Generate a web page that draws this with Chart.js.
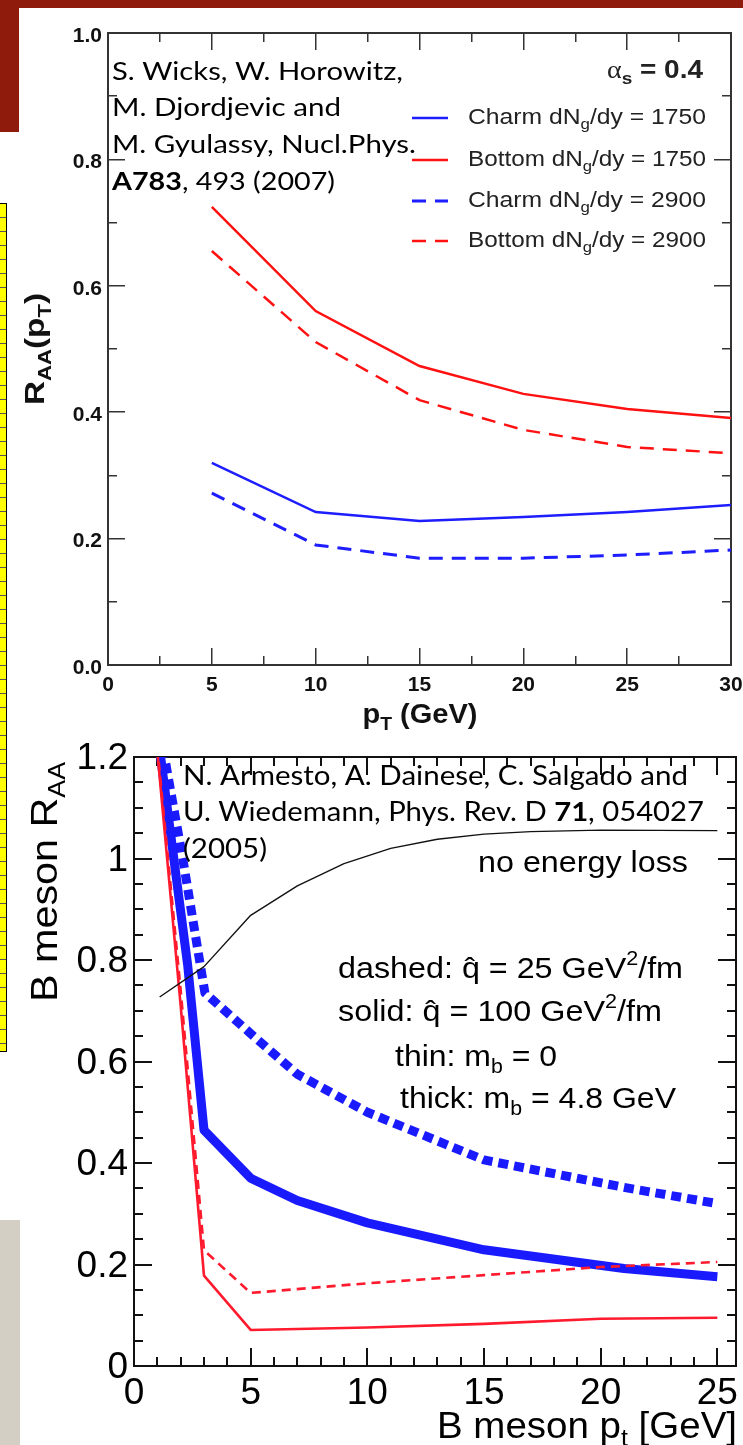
<!DOCTYPE html>
<html><head><meta charset="utf-8">
<script src="https://cdn.jsdelivr.net/npm/chart.js@4/dist/chart.umd.min.js"></script>
<style>
html,body{margin:0;padding:0;background:#fff;}
body{width:743px;height:1445px;position:relative;overflow:hidden;}
canvas{position:absolute;left:0;top:0;}
.deco{position:absolute;}
</style></head><body>
<div class="deco" style="left:0;top:0;width:743px;height:8px;background:#8e1b0c"></div>
<div class="deco" style="left:0;top:0;width:19px;height:132px;background:#8e1b0c"></div>
<div class="deco" style="left:0;top:203px;width:6px;height:847px;background:repeating-linear-gradient(to bottom,#ffff00 0px,#ffff00 13px,#555 13px,#555 14px);border:1px solid #000;border-left:none"></div>
<div class="deco" style="left:0;top:1220px;width:20px;height:225px;background:#d3cfc4"></div>
<canvas id="c1" width="743" height="1445"></canvas>
<canvas id="c2" width="743" height="1445"></canvas>
<script>
// ---------- top panel data (Wicks et al.) ----------
const topPt      = [5, 10, 15, 20, 25, 30];
const charm1750  = [0.320, 0.242, 0.228, 0.234, 0.242, 0.253];
const bottom1750 = [0.725, 0.560, 0.473, 0.429, 0.405, 0.391];
const charm2900  = [0.272, 0.190, 0.169, 0.169, 0.174, 0.182];
const bottom2900 = [0.655, 0.511, 0.419, 0.372, 0.345, 0.335];
const topLabels  = ['Charm dN/dy = 1750', 'Bottom dN/dy = 1750', 'Charm dN/dy = 2900', 'Bottom dN/dy = 2900'];

const topXMajor  = [0, 5, 10, 15, 20, 25, 30];
const topXLabels = ['0', '5', '10', '15', '20', '25', '30'];
const topXMinor  = [2.5, 7.5, 12.5, 17.5, 22.5, 27.5];
const topYMajor  = [0, 0.2, 0.4, 0.6, 0.8, 1.0];
const topYLabels = ['0.0', '0.2', '0.4', '0.6', '0.8', '1.0'];
const topYMinor  = [0.1, 0.3, 0.5, 0.7, 0.9];

// ---------- bottom panel data (Armesto et al.) ----------
const noLossPt   = [1.1, 3, 5, 7, 9, 11, 13, 15, 17, 20, 25];
const noLoss     = [0.727, 0.787, 0.888, 0.946, 0.99, 1.02, 1.038, 1.048, 1.053, 1.056, 1.055];
const thinPt     = [1, 2, 3, 5, 10, 15, 20, 25];
const thinSolid  = [1.21, 0.71, 0.178, 0.071, 0.076, 0.083, 0.093, 0.095];
const thinDashed = [1.22, 0.74, 0.228, 0.144, 0.163, 0.179, 0.195, 0.205];
const thickSolidPt  = [1, 2.3, 3, 5, 7, 10, 15, 21, 25];
const thickSolid    = [1.25, 0.79, 0.465, 0.37, 0.326, 0.282, 0.229, 0.192, 0.176];
const thickDashedPt = [1, 2.1, 3.04, 5, 7, 10, 15, 21, 25];
const thickDashed   = [1.28, 0.997, 0.735, 0.655, 0.575, 0.5, 0.406, 0.352, 0.32];

const botXMajor  = [0, 5, 10, 15, 20, 25];
const botXLabels = ['0', '5', '10', '15', '20', '25'];
const botXMinor  = [1, 2, 3, 4, 6, 7, 8, 9, 11, 12, 13, 14, 16, 17, 18, 19, 21, 22, 23, 24];
const botYMajor  = [0, 0.2, 0.4, 0.6, 0.8, 1.0, 1.2];
const botYLabels = ['0', '0.2', '0.4', '0.6', '0.8', '1', '1.2'];
const botYMinor  = [0.05, 0.1, 0.15, 0.25, 0.3, 0.35, 0.45, 0.5, 0.55, 0.65, 0.7, 0.75, 0.85, 0.9, 0.95, 1.05, 1.1, 1.15];

// ---------- helpers ----------
const pts = (xs, ys) => xs.map((x, i) => ({ x: x, y: ys[i] }));
function fitTo(size) {
  return s => {
    if (s.isHorizontal()) s.height = size; else s.width = size;
    s.paddingTop = s.paddingBottom = s.paddingLeft = s.paddingRight = 0;
  };
}
function axis(pos, min, max, tickVals, o) {
  return {
    type: 'linear', position: pos, min: min, max: max, weight: o.weight || 0,
    afterBuildTicks: s => { s.ticks = tickVals.map(v => ({ value: v })); },
    afterFit: fitTo(o.size || 0),
    ticks: o.labels ? {
      display: true, autoSkip: false, minRotation: 0, maxRotation: 0,
      padding: o.pad, color: o.tcol || '#111', font: o.font, labelOffset: o.loff || 0,
      callback: (v, i) => o.labels[i]
    } : { display: false },
    grid: { display: true, drawOnChartArea: false, drawTicks: true, tickLength: -o.len, color: o.col, lineWidth: o.lw },
    border: { display: !!o.border, color: o.col, width: o.bw || 2 }
  };
}
function drawRich(ctx, segs, x, y, o) {
  const size = o.size, fam = o.family || 'Liberation Sans';
  const fnt = s => (s.i ? 'italic ' : '') + (s.b ? 'bold ' : '') + ((s.sub || s.sup) ? Math.round(size * (o.ss || 0.66)) : size) + 'px ' + (s.f ? s.f : fam);
  ctx.save();
  ctx.translate(x, y);
  if (o.rot) ctx.rotate(o.rot);
  let w = 0;
  const ws = segs.map(s => { ctx.font = fnt(s); const m = ctx.measureText(s.t).width; w += m; return m; });
  const sx = o.width ? o.width / w : 1;
  const tw = w * sx;
  const x0 = o.align === 'right' ? -tw : (o.align === 'center' ? -tw / 2 : 0);
  ctx.translate(x0, 0);
  ctx.scale(sx, 1);
  ctx.fillStyle = o.color || '#000';
  ctx.textBaseline = 'middle';
  ctx.textAlign = 'left';
  let cx = 0;
  segs.forEach((s, i) => {
    ctx.font = fnt(s);
    const dy = s.sub ? size * 0.32 : (s.sup ? -size * 0.36 : 0);
    ctx.fillText(s.t, cx, dy);
    cx += ws[i];
  });
  ctx.restore();
}

// ---------- top chart ----------
const tf1 = { family: 'Liberation Sans', size: 21, weight: 'bold' };
const c1col = '#333';
const annot1 = {
  id: 'annot1',
  afterDraw(chart) {
    const ctx = chart.ctx;
    const cite = { size: 25, family: 'Lato', color: '#000' };
    drawRich(ctx, [{ t: 'S. Wicks, W. Horowitz,' }], 112, 72, Object.assign({ width: 291 }, cite));
    drawRich(ctx, [{ t: 'M. Djordjevic and' }], 112, 108, Object.assign({ width: 229 }, cite));
    drawRich(ctx, [{ t: 'M. Gyulassy, Nucl.Phys.' }], 112, 145, Object.assign({ width: 304 }, cite));
    drawRich(ctx, [{ t: 'A783', b: true }, { t: ', 493 (2007)' }], 112, 182, Object.assign({ width: 223 }, cite));
    drawRich(ctx, [{ t: 'α', f: 'Liberation Serif' }, { t: 's', b: true, sub: true }, { t: ' = 0.4', b: true }], 703, 71,
      { size: 25, align: 'right', width: 96, color: '#222' });
    const rows = [118, 160, 201, 241];
    chart.data.datasets.forEach((ds, i) => {
      ctx.save();
      ctx.strokeStyle = ds.borderColor; ctx.lineWidth = ds.borderWidth;
      ctx.setLineDash(ds.borderDash || []);
      ctx.beginPath(); ctx.moveTo(412, rows[i]); ctx.lineTo(448, rows[i]); ctx.stroke();
      ctx.restore();
      const parts = topLabels[i].split('dN');
      drawRich(ctx, [{ t: parts[0] + 'dN' }, { t: 'g', sub: true }, { t: parts[1] }], 468, rows[i],
        { size: 22, width: 238, color: '#222' });
    });
    drawRich(ctx, [{ t: 'p', b: true }, { t: 'T', b: true, sub: true }, { t: ' (GeV)', b: true }], 420, 716,
      { size: 27, align: 'center', width: 115, color: '#111' });
    drawRich(ctx, [{ t: 'R', b: true }, { t: 'AA', b: true, sub: true }, { t: '(p', b: true }, { t: 'T', b: true, sub: true }, { t: ')', b: true }],
      37, 349, { size: 27, align: 'center', width: 112, rot: -Math.PI / 2, color: '#111' });
  }
};
new Chart(document.getElementById('c1'), {
  type: 'line',
  data: { datasets: [
    { label: topLabels[0], data: pts(topPt, charm1750),  borderColor: '#1d1dff', borderWidth: 2.5, borderDash: [] },
    { label: topLabels[1], data: pts(topPt, bottom1750), borderColor: '#ff1111', borderWidth: 2.5, borderDash: [] },
    { label: topLabels[2], data: pts(topPt, charm2900),  borderColor: '#1d1dff', borderWidth: 3, borderDash: [14, 9] },
    { label: topLabels[3], data: pts(topPt, bottom2900), borderColor: '#ff1111', borderWidth: 2.5, borderDash: [14, 9] }
  ] },
  options: {
    responsive: false, animation: false, events: [],
    layout: { padding: { left: 0, top: 33, right: 12, bottom: 0 } },
    plugins: { legend: { display: false }, tooltip: { enabled: false }, title: { display: false } },
    elements: { point: { radius: 0 }, line: { tension: 0, fill: false, borderCapStyle: 'butt' } },
    datasets: { line: { clip: 0 } },
    scales: {
      x:   axis('bottom', 0, 30, topXMajor, { labels: topXLabels, pad: 25, font: tf1, len: 17, col: c1col, lw: 1.5, border: true, size: 780, weight: 1 }),
      x2:  axis('bottom', 0, 30, topXMinor, { len: 9, col: c1col, lw: 1.5, weight: -1 }),
      xt:  axis('top', 0, 30, topXMajor, { len: 17, col: c1col, lw: 1.5, border: true }),
      xt2: axis('top', 0, 30, topXMinor, { len: 9, col: c1col, lw: 1.5 }),
      y:   axis('left', 0, 1, topYMajor, { labels: topYLabels, pad: 23, loff: 3, font: tf1, len: 17, col: c1col, lw: 1.5, border: true, size: 108, weight: 1 }),
      y2:  axis('left', 0, 1, topYMinor, { len: 9, col: c1col, lw: 1.5, weight: -1 }),
      yr:  axis('right', 0, 1, topYMajor, { len: 17, col: c1col, lw: 1.5, border: true }),
      yr2: axis('right', 0, 1, topYMinor, { len: 9, col: c1col, lw: 1.5 })
    }
  },
  plugins: [annot1]
});

// ---------- bottom chart ----------
const tf2 = { family: 'Liberation Sans', size: 37, weight: 'normal' };
const c2col = '#111';
const annot2 = {
  id: 'annot2',
  afterDraw(chart) {
    const ctx = chart.ctx;
    const cite = { size: 26, family: 'Lato', color: '#000' };
    drawRich(ctx, [{ t: 'N. Armesto, A. Dainese, C. Salgado and' }], 183, 777, Object.assign({ width: 505 }, cite));
    drawRich(ctx, [{ t: 'U. Wiedemann, Phys. Rev. D ' }, { t: '71', b: true }, { t: ', 054027' }], 183, 813, Object.assign({ width: 521 }, cite));
    drawRich(ctx, [{ t: '(2005)' }], 183, 850, Object.assign({ width: 84 }, cite));
    const lab = { size: 30, color: '#000' };
    drawRich(ctx, [{ t: 'no energy loss' }], 478, 864, Object.assign({ width: 210 }, lab));
    drawRich(ctx, [{ t: 'dashed: q\u0302 = 25 GeV' }, { t: '2', sup: true }, { t: '/fm' }], 338, 970, Object.assign({ width: 345 }, lab));
    drawRich(ctx, [{ t: 'solid: q\u0302 = 100 GeV' }, { t: '2', sup: true }, { t: '/fm' }], 338, 1013, Object.assign({ width: 324 }, lab));
    drawRich(ctx, [{ t: 'thin: m' }, { t: 'b', sub: true }, { t: ' = 0' }], 395, 1058, Object.assign({ width: 162 }, lab));
    drawRich(ctx, [{ t: 'thick: m' }, { t: 'b', sub: true }, { t: ' = 4.8 GeV' }], 400, 1100, Object.assign({ width: 276 }, lab));
    drawRich(ctx, [{ t: 'B meson p' }, { t: 't', sub: true }, { t: ' [GeV]' }], 737, 1428, { size: 37, align: 'right', width: 300 });
    drawRich(ctx, [{ t: 'B meson R' }, { t: 'AA', sub: true }], 47, 762, { size: 37, align: 'right', rot: -Math.PI / 2, width: 240 });
  }
};
new Chart(document.getElementById('c2'), {
  type: 'line',
  data: { datasets: [
    { label: 'no energy loss', data: pts(noLossPt, noLoss), borderColor: '#111', borderWidth: 1.4, borderDash: [] },
    { label: 'thin solid', data: pts(thinPt, thinSolid), borderColor: '#ff1a2e', borderWidth: 2.6, borderDash: [] },
    { label: 'thin dashed', data: pts(thinPt, thinDashed), borderColor: '#ff1a2e', borderWidth: 2.6, borderDash: [9, 6] },
    { label: 'thick dashed', data: pts(thickDashedPt, thickDashed), borderColor: '#1a1aff', borderWidth: 9, borderDash: [10, 6] },
    { label: 'thick solid', data: pts(thickSolidPt, thickSolid), borderColor: '#1a1aff', borderWidth: 9, borderDash: [] }
  ] },
  options: {
    responsive: false, animation: false, events: [],
    layout: { padding: { left: 0, top: 757, right: 7, bottom: 0 } },
    plugins: { legend: { display: false }, tooltip: { enabled: false }, title: { display: false } },
    elements: { point: { radius: 0 }, line: { tension: 0, fill: false, borderCapStyle: 'butt', borderJoinStyle: 'round' } },
    datasets: { line: { clip: 0 } },
    scales: {
      x:   axis('bottom', 0, 25.8, botXMajor, { labels: botXLabels, pad: 24, font: tf2, tcol: '#000', len: 18, col: c2col, lw: 2, border: true, size: 79, weight: 1 }),
      x2:  axis('bottom', 0, 25.8, botXMinor, { len: 9, col: c2col, lw: 2, weight: -1 }),
      xt:  axis('top', 0, 25.8, botXMajor, { len: 18, col: c2col, lw: 2, border: true }),
      xt2: axis('top', 0, 25.8, botXMinor, { len: 9, col: c2col, lw: 2 }),
      y:   axis('left', 0, 1.2, botYMajor, { labels: botYLabels, pad: 24, loff: 2, font: tf2, tcol: '#000', len: 18, col: c2col, lw: 2, border: true, size: 134, weight: 1 }),
      y2:  axis('left', 0, 1.2, botYMinor, { len: 9, col: c2col, lw: 2, weight: -1 }),
      yr:  axis('right', 0, 1.2, botYMajor, { len: 18, col: c2col, lw: 2, border: true }),
      yr2: axis('right', 0, 1.2, botYMinor, { len: 9, col: c2col, lw: 2 })
    }
  },
  plugins: [annot2]
});
</script>
</body></html>
